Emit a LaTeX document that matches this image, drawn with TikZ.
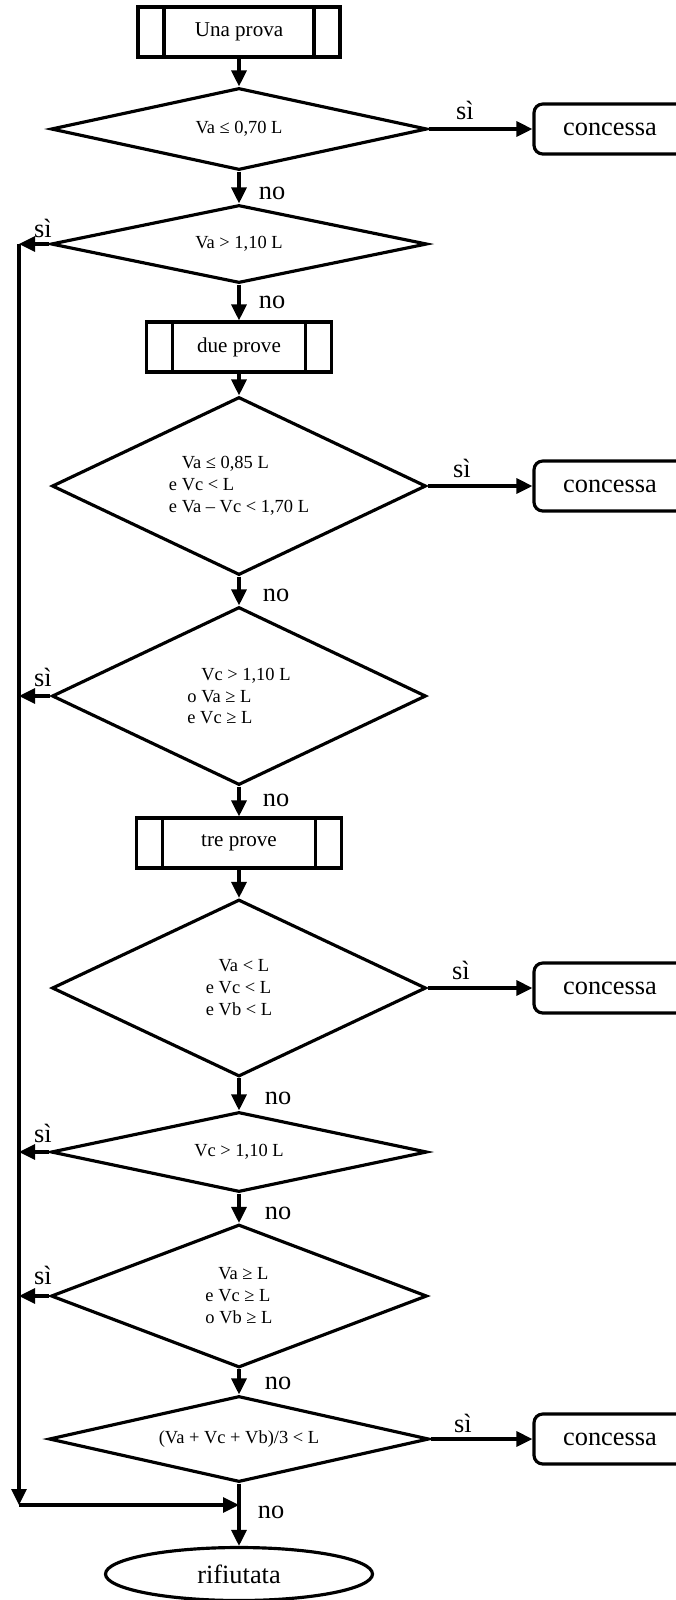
\documentclass[tikz,border=0pt]{standalone}
\usepackage{fontspec}
\setmainfont{Liberation Serif}
\usetikzlibrary{shapes.geometric,arrows.meta}

\begin{document}
\begin{tikzpicture}[
    line width=1.8pt,
    arr/.style={-{Triangle[length=0.32cm,width=0.3cm]}},
    prova/.style={draw, minimum width=#1, minimum height=1cm,
        font=\fontsize{12}{14}\selectfont,
        path picture={
            \draw ([xshift=0.52cm]path picture bounding box.north west) -- ([xshift=0.52cm]path picture bounding box.south west);
            \draw ([xshift=-0.52cm]path picture bounding box.north east) -- ([xshift=-0.52cm]path picture bounding box.south east);
        }},
    test/.style={draw, diamond, aspect=3, inner sep=0pt, align=left,
        font=\fontsize{10.5}{12.5}\selectfont},
    esito/.style={draw, rounded corners=5pt, minimum width=3.04cm, minimum height=1cm,
        font=\fontsize{15}{18}\selectfont},
    fine/.style={draw, ellipse, minimum width=5.34cm, minimum height=1.06cm,
        font=\fontsize{15}{18}\selectfont},
    lab/.style={font=\fontsize{15}{18}\selectfont}
]
    \useasboundingbox (0,0) rectangle (13.5,-32);

    \node[prova=4.04cm] (B1) at (4.78,-0.64) {Una prova};
    \node[test, minimum width=7.52cm, minimum height=1.64cm] (D1) at (4.78,-2.58) {Va ≤ 0,70 L};
    \node[esito] (C1) at (12.2,-2.58) {concessa};
    \node[lab] (S1) at (9.3,-2.2) {sì};
    \node[lab] (N1) at (5.44,-3.86) {no};
    \node[test, minimum width=7.52cm, minimum height=1.56cm] (D2) at (4.78,-4.88) {Va > 1,10 L};
    \node[lab] (S2) at (0.86,-4.56) {sì};
    \node[lab] (N2) at (5.44,-6.04) {no};
    \node[prova=3.7cm] (B2) at (4.78,-6.94) {due prove};
    \node[test, aspect=2, minimum width=7.48cm, minimum height=3.56cm] (D3) at (4.78,-9.72)
        {\phantom{e }Va ≤ 0,85 L\\e Vc < L\\e Va – Vc < 1,70 L};
    \node[esito] (C2) at (12.2,-9.72) {concessa};
    \node[lab] (S3) at (9.24,-9.36) {sì};
    \node[lab] (N3) at (5.52,-11.9) {no};
    \node[test, aspect=2, minimum width=7.48cm, minimum height=3.56cm] (D4) at (4.78,-13.92)
        {\phantom{o }Vc > 1,10 L\\o Va ≥ L\\e Vc ≥ L};
    \node[lab] (S4) at (0.86,-13.54) {sì};
    \node[lab] (N4) at (5.52,-16.0) {no};
    \node[prova=4.1cm] (B3) at (4.78,-16.86) {tre prove};
    \node[test, aspect=2, minimum width=7.48cm, minimum height=3.54cm] (D5) at (4.78,-19.76)
        {\phantom{e }Va < L\\e Vc < L\\e Vb < L};
    \node[esito] (C3) at (12.2,-19.76) {concessa};
    \node[lab] (S5) at (9.22,-19.4) {sì};
    \node[lab] (N5) at (5.56,-21.96) {no};
    \node[test, minimum width=7.52cm, minimum height=1.6cm] (D6) at (4.78,-23.04) {Vc > 1,10 L};
    \node[lab] (S6) at (0.86,-22.66) {sì};
    \node[lab] (N6) at (5.56,-24.26) {no};
    \node[test, aspect=2, minimum width=7.52cm, minimum height=2.86cm] (D7) at (4.78,-25.92)
        {\phantom{e }Va ≥ L\\e Vc ≥ L\\o Vb ≥ L};
    \node[lab] (S7) at (0.86,-25.5) {sì};
    \node[lab] (N7) at (5.56,-27.66) {no};
    \node[test, minimum width=7.6cm, minimum height=1.72cm] (D8) at (4.78,-28.78) {(Va + Vc + Vb)/3 < L};
    \node[esito] (C4) at (12.2,-28.78) {concessa};
    \node[lab] (S8) at (9.26,-28.46) {sì};
    \node[lab] (N8) at (5.42,-30.24) {no};
    \node[fine] (R) at (4.78,-31.48) {rifiutata};
    \coordinate (T) at (0.38,-4.88);
    \coordinate (U) at (0.38,-30.1);

    \draw[arr] (B1) -- (D1);
    \draw[arr] (D1) -- (D2);
    \draw[arr] (D2) -- (B2);
    \draw[arr] (B2) -- (D3);
    \draw[arr] (D3) -- (D4);
    \draw[arr] (D4) -- (B3);
    \draw[arr] (B3) -- (D5);
    \draw[arr] (D5) -- (D6);
    \draw[arr] (D6) -- (D7);
    \draw[arr] (D7) -- (D8);
    \draw[arr] (D8) -- (R);
    \draw[arr] (D1) -- (C1);
    \draw[arr] (D3) -- (C2);
    \draw[arr] (D5) -- (C3);
    \draw[arr] (D8) -- (C4);
    \draw[arr] (D2.west) -- (D2.west -| T);
    \draw[arr] (D4.west) -- (D4.west -| T);
    \draw[arr] (D6.west) -- (D6.west -| T);
    \draw[arr] (D7.west) -- (D7.west -| T);
    \draw[arr] (T) -- (U);
    \draw[arr] (U) -- (U -| R.north);
\end{tikzpicture}
\end{document}
